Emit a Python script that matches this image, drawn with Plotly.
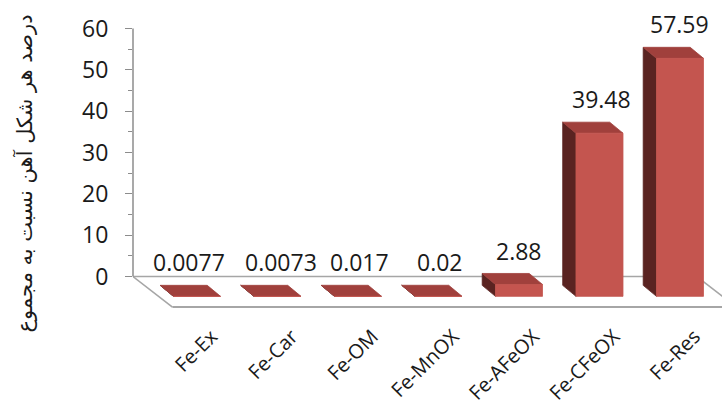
import plotly.graph_objects as go

# Iron fractions (% of total iron)
categories = ["Fe-Ex", "Fe-Car", "Fe-OM", "Fe-MnOX", "Fe-AFeOX", "Fe-CFeOX", "Fe-Res"]
values = [0.0077, 0.0073, 0.017, 0.02, 2.88, 39.48, 57.59]
y_ticks = [0, 10, 20, 30, 40, 50, 60]
y_minor_ticks = [5, 15, 25, 35, 45, 55]
y_title = "درصد هر شکل آهن نسبت به مجموع"

# Pseudo-3D geometry (data units: x = category index, y = percent)
HALF = 0.292          # half width of a bar's front face
DX, DY = -0.165, 2.66  # depth offset toward the back wall
FRONT_BASE = -4.8      # floor level at the bars' front faces
FLOOR_FRONT = -7.38
X_RANGE = [-0.795, 6.522]
Y_RANGE = [-11.73, 64.48]

FRONT = "#C4554F"
TOP = "#A0403C"
SIDE = "#5A2321"
GRID = "#A6A6A6"

fig = go.Figure()


def poly(xs, ys, color, width=0.8, line=None, fill=True):
    fig.add_trace(go.Scatter(
        x=xs, y=ys, mode="lines",
        fill="toself" if fill else None,
        fillcolor=color if fill else None,
        line=dict(color=line or color, width=width),
        hoverinfo="skip", showlegend=False,
    ))


# floor outline
x_back_left = X_RANGE[0]
x_front_left = x_back_left + 0.49
x_back_right = 6.21
x_front_right = x_back_right + 0.49
poly([x_back_left, x_back_right], [0, 0], GRID, 1.6, fill=False)
poly([x_back_left, x_front_left], [0, FLOOR_FRONT], GRID, 1.6, fill=False)
poly([x_back_right, x_front_right], [0, FLOOR_FRONT], GRID, 1.6, fill=False)
poly([x_front_left, X_RANGE[1]], [FLOOR_FRONT, FLOOR_FRONT], GRID, 2, fill=False)

# bars: side, top, then front face
for i, v in enumerate(values):
    xl, xr = i - HALF, i + HALF
    yb, yt = FRONT_BASE, FRONT_BASE + v
    poly([xl, xl, xl + DX, xl + DX, xl], [yb, yt, yt + DY, yb + DY, yb], SIDE)
    poly([xl, xr, xr + DX, xl + DX, xl], [yt, yt, yt + DY, yt + DY, yt], TOP)
    poly([xl, xr, xr, xl, xl], [yb, yb, yt, yt, yb], FRONT)

# value labels (the first one sits slightly left, clear of the axis corner)
label_dx = [-0.1, 0.04, 0.02, 0.02, 0.0, 0.03, 0.0]
for i, v in enumerate(values):
    fig.add_annotation(
        x=i + label_dx[i], y=v, xref="x", yref="y", text=str(v), showarrow=False,
        xanchor="center", yanchor="bottom", yshift=-4,
        font=dict(family="Open Sans", size=23, color="#1a1a1a"),
    )

# value axis line (0..60 only)
fig.add_shape(type="line", xref="paper", yref="y", x0=0, x1=0,
              y0=y_ticks[0], y1=y_ticks[-1], line=dict(color="#8C8C8C", width=1.5))

fig.add_annotation(
    x=-0.184, y=0.48, xref="paper", yref="paper", text=y_title,
    textangle=-90, showarrow=False, xanchor="center", yanchor="middle",
    font=dict(family="DejaVu Sans", size=21, color="#1a1a1a"),
)

fig.update_layout(
    width=722, height=413,
    margin=dict(l=133, r=0, t=10, b=88, autoexpand=False),
    paper_bgcolor="white", plot_bgcolor="white",
    xaxis=dict(
        range=X_RANGE, showgrid=False, zeroline=False, showline=False,
        automargin=False,
        tickmode="array", tickvals=[i + 0.18 for i in range(len(categories))],
        ticktext=categories, tickangle=-45, ticks="", ticklabelstandoff=-5,
        tickfont=dict(family="Open Sans", size=20, color="#1a1a1a"),
    ),
    yaxis=dict(
        range=Y_RANGE, showgrid=False, zeroline=False, showline=False,
        automargin=False,
        tickmode="array", tickvals=y_ticks, ticks="outside", ticklen=7,
        tickcolor="#8C8C8C", tickwidth=1, ticklabelstandoff=12,
        tickfont=dict(family="Open Sans", size=23, color="#1a1a1a"),
        minor=dict(tickmode="array", tickvals=y_minor_ticks, ticks="outside",
                   ticklen=4, tickcolor="#8C8C8C", tickwidth=1),
    ),
)

fig.write_html("out.html")
